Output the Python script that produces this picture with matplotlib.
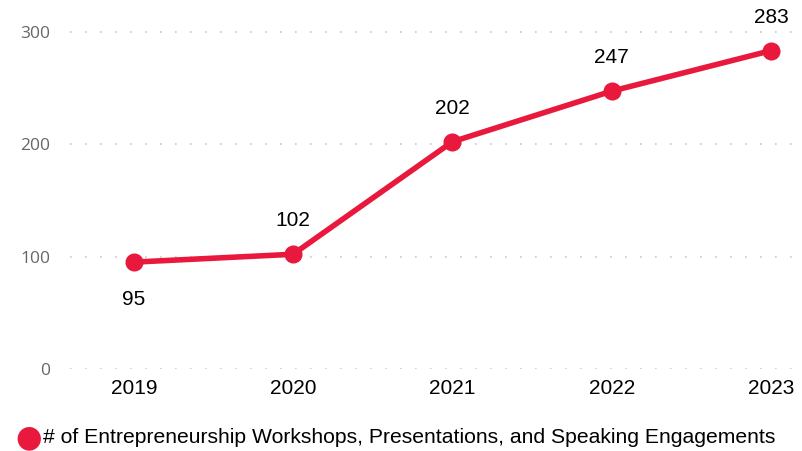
import matplotlib.pyplot as plt

years = [2019, 2020, 2021, 2022, 2023]
engagements = [95, 102, 202, 247, 283]
series_name = "# of Entrepreneurship Workshops, Presentations, and Speaking Engagements"
y_ticks = [0, 100, 200, 300]

red = "#E8193C"
plt.rcParams["font.family"] = ["Liberation Sans", "DejaVu Sans"]

fig = plt.figure(figsize=(8.03, 4.51), dpi=100)
ax = fig.add_axes([0.0872, 0.1818, 0.9028, 0.8182])

ax.plot(years, engagements, color=red, lw=4, marker="o", ms=12,
        solid_capstyle="round", zorder=3)

for x, y in zip(years, engagements):
    if x == years[0]:
        ax.annotate(str(y), (x, y), xytext=(0, -27), textcoords="offset points",
                    ha="center", va="center", fontsize=15)
    else:
        ax.annotate(str(y), (x, y), xytext=(0, 24), textcoords="offset points",
                    ha="center", va="center", fontsize=15)

ax.set_xlim(2018.6, 2023.15)
ax.set_ylim(0, 328)
ax.set_xticks(years)
ax.set_xticklabels([str(y) for y in years], fontsize=15)
ax.set_yticks(y_ticks)
ax.set_yticklabels([str(t) for t in y_ticks], fontsize=12.5, color="#666666",
                   family="Open Sans")
ax.tick_params(length=0)
ax.tick_params(axis="x", pad=7)
ax.tick_params(axis="y", pad=14)
ax.grid(axis="y", color="#C8C8C8", linestyle=(0, (1, 8)), lw=1.2)
for s in ax.spines.values():
    s.set_visible(False)

fig.text(0.0361, 0.029, "\u25CF", color=red, fontsize=22, ha="center", va="center",
         family="DejaVu Sans")
fig.text(0.0535, 0.029, series_name, fontsize=15.2, ha="left", va="center")

fig.savefig("out.png", dpi=100)
